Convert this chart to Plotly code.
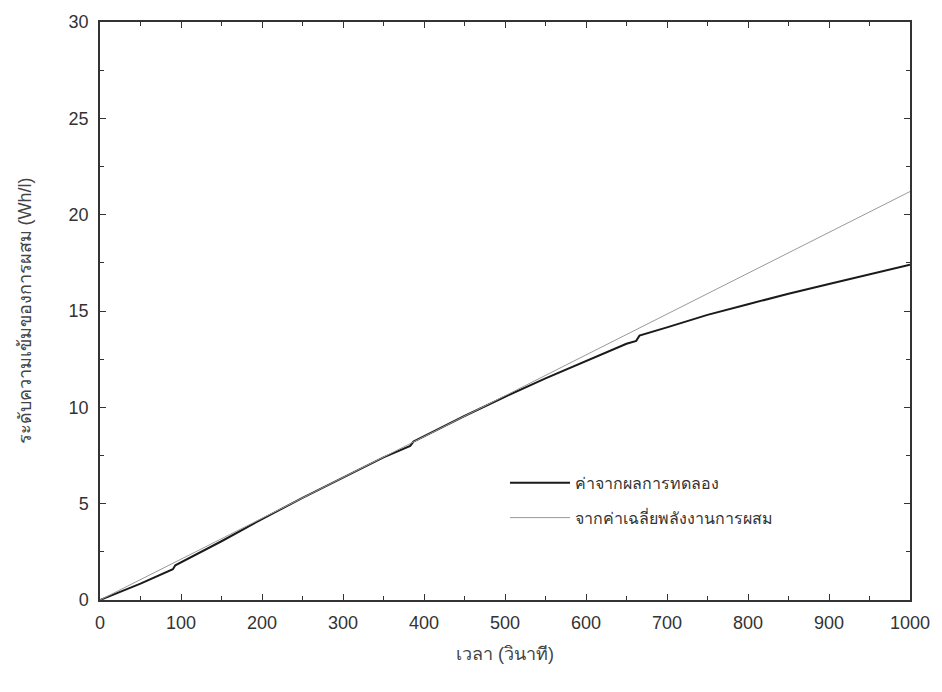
import plotly.graph_objects as go

# Experimental curve (black)
exp_t = [0, 50, 90, 93, 150, 200, 250, 300, 350, 383, 387, 450, 500, 550, 600, 650, 662, 666, 700, 750, 800, 850, 900, 950, 1000]
exp_v = [0, 0.85, 1.6, 1.8, 3.05, 4.2, 5.3, 6.35, 7.4, 8.0, 8.22, 9.55, 10.55, 11.5, 12.4, 13.3, 13.45, 13.72, 14.15, 14.8, 15.35, 15.9, 16.4, 16.9, 17.4]

# Mean mixing power curve (gray)
avg_t = [0, 100, 200, 300, 400, 500, 600, 700, 800, 900, 1000]
avg_v = [0, 2.12, 4.24, 6.36, 8.48, 10.6, 12.72, 14.84, 16.96, 19.08, 21.2]

series_names = ["ค่าจากผลการทดลอง", "จากค่าเฉลี่ยพลังงานการผสม"]

fig = go.Figure()
fig.add_trace(go.Scatter(x=exp_t, y=exp_v, mode="lines", name=series_names[0],
                         legendgroup="a", line=dict(color="#1a1a1a", width=2)))
fig.add_trace(go.Scatter(x=avg_t, y=avg_v, mode="lines", name=series_names[1],
                         legendgroup="b", line=dict(color="#999999", width=1)))

font_fam = "Liberation Sans, Arial, Noto Sans, sans-serif"
axis_common = dict(showgrid=False, zeroline=False, showline=True, linecolor="#333",
                   linewidth=1.5, mirror="ticks", ticks="inside", ticklen=6,
                   tickcolor="#333", ticklabelstandoff=6,
                   tickfont=dict(size=18, color="#333", family=font_fam))

fig.update_layout(
    width=942, height=692,
    margin=dict(l=100, r=30, t=16, b=92),
    paper_bgcolor="white", plot_bgcolor="white",
    font=dict(family=font_fam, color="#333"),
    showlegend=True,
    legend=dict(x=0.5, y=0.232, xanchor="left", yanchor="top",
                bgcolor="rgba(0,0,0,0)", font=dict(size=16, color="#333"),
                tracegroupgap=11, itemwidth=60),
    xaxis=dict(range=[0, 1000], dtick=100, tick0=0,
               minor=dict(dtick=50, ticks="inside", ticklen=4, tickcolor="#333"),
               title=dict(text="เวลา (วินาที)", font=dict(size=18, color="#444"), standoff=15),
               **axis_common),
    yaxis=dict(range=[0, 30], dtick=5, tick0=0,
               minor=dict(dtick=2.5, ticks="inside", ticklen=4, tickcolor="#333"),
               title=dict(text="ระดับความเข้มของการผสม (Wh/l)", font=dict(size=18, color="#444"), standoff=32),
               **axis_common),
)

fig.write_html("out.html")
